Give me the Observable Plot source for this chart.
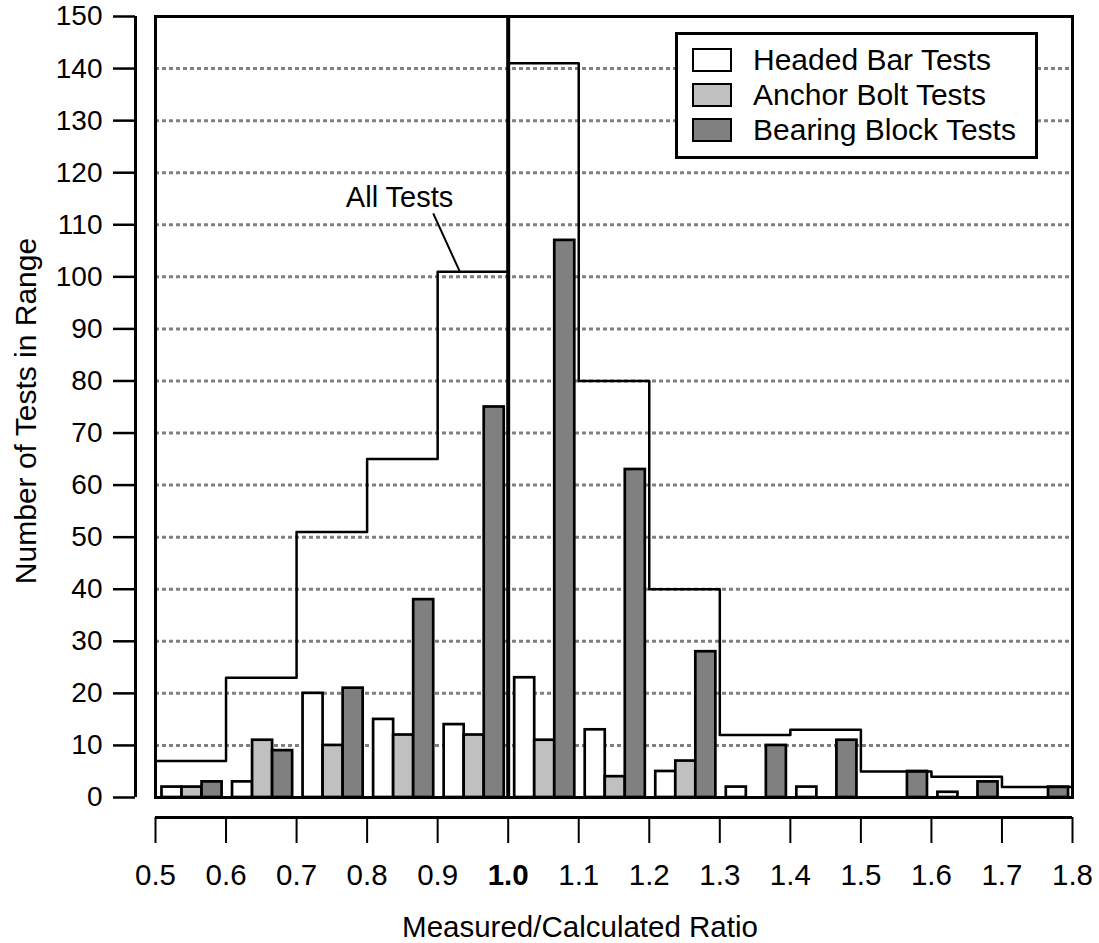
<!DOCTYPE html>
<html>
<head>
<meta charset="utf-8">
<script src="https://cdn.jsdelivr.net/npm/d3@7"></script>
<script src="https://cdn.jsdelivr.net/npm/@observablehq/plot@0.6"></script>
<style>
  html, body { margin: 0; padding: 0; background: #fff; }
  #wrap { position: relative; width: 1099px; height: 943px; font-family: "Liberation Sans", Arial, sans-serif; }
  #legend { position: absolute; left: 675px; top: 32px; width: 363px; height: 127px; box-sizing: border-box;
            border: 3px solid #000; background: #fff; padding-top: 7px; }
  .row { display: flex; align-items: center; height: 35px; }
  .sw { box-sizing: border-box; width: 40px; height: 24px; border: 2.5px solid #000; margin-left: 14px; margin-right: 21px; }
  .lt { font-size: 30px; color: #000; line-height: 35px; white-space: nowrap; }
</style>
</head>
<body>
<div id="wrap"></div>
<script>
// ---- data ----
const binStarts = [0.5, 0.6, 0.7, 0.8, 0.9, 1.0, 1.1, 1.2, 1.3, 1.4, 1.5, 1.6, 1.7];
const headedBar   = [2, 3, 20, 15, 14, 23, 13, 5, 2, 2, 0, 1, 0];
const anchorBolt  = [2, 11, 10, 12, 12, 11, 4, 7, 0, 0, 0, 0, 0];
const bearingBlock= [3, 9, 21, 38, 75, 107, 63, 28, 10, 11, 5, 3, 2];
const allTests    = [7, 23, 51, 65, 101, 141, 80, 40, 12, 13, 5, 4, 2];
const seriesNames = ["Headed Bar Tests", "Anchor Bolt Tests", "Bearing Block Tests"];
const seriesColors = ["#ffffff", "#c0c0c0", "#808080"];
const xTickLabels = ["0.5","0.6","0.7","0.8","0.9","1.0","1.1","1.2","1.3","1.4","1.5","1.6","1.7","1.8"];
const yTickValues = [0,10,20,30,40,50,60,70,80,90,100,110,120,130,140,150];
const gridValues  = [10,20,30,40,50,60,70,80,90,100,110,120,130,140];
const annotation = [{label: "All Tests", x: 0.846, y: 115.2, x1: 0.8937, y1: 112.2, x2: 0.9314, y2: 101}];

// ---- derived tables ----
const binWidth = 0.1;
const groupOffset = 0.092, barFrac = 0.284;
const seriesValues = [headedBar, anchorBolt, bearingBlock];
const bars = [];
seriesValues.forEach((vals, k) => {
  vals.forEach((v, i) => {
    if (v > 0) {
      const x1 = binStarts[i] + binWidth * (groupOffset + k * barFrac);
      bars.push({series: seriesNames[k], x1, x2: x1 + binWidth * barFrac, value: v});
    }
  });
});
const step = binStarts.map((b, i) => ({x: b, y: allTests[i]}));
step.push({x: 1.8, y: allTests[allTests.length - 1]});
const xTicks = xTickLabels.map(Number);
const boldTick = [1.0];
const normalTicks = xTicks.filter(t => t !== 1.0);

const chart = Plot.plot({
  width: 1099,
  height: 943,
  marginLeft: 155,
  marginRight: 27,
  marginTop: 16,
  marginBottom: 146,
  style: {fontFamily: "'Liberation Sans', Arial, sans-serif", background: "#fff", color: "#000"},
  x: {domain: [0.5, 1.8]},
  y: {domain: [0, 150]},
  color: {domain: seriesNames, range: seriesColors},
  marks: [
    Plot.ruleY(gridValues, {stroke: "#808080", strokeWidth: 3, strokeDasharray: "4,3"}),
    Plot.rect(bars, {x1: "x1", x2: "x2", y1: 0, y2: "value", fill: "series", stroke: "#000", strokeWidth: 2.7}),
    Plot.line(step, {x: "x", y: "y", curve: "step-after", stroke: "#000", strokeWidth: 2.5}),
    Plot.ruleX(boldTick, {stroke: "#000", strokeWidth: 4}),
    Plot.frame({stroke: "#000", strokeWidth: 3}),
    // annotation
    Plot.link(annotation, {x1: "x1", y1: "y1", x2: "x2", y2: "y2", stroke: "#000", strokeWidth: 2}),
    Plot.text(annotation, {x: "x", y: "y", text: "label", fontSize: 29, fill: "#000"}),
    // x axis (offset below the frame)
    Plot.ruleY([0], {dy: 20, stroke: "#000", strokeWidth: 3}),
    Plot.axisX({ticks: normalTicks, tickFormat: d => d.toFixed(1), tickSize: 26, tickPadding: 21, dy: 20,
                fontSize: 29.5, label: null, strokeWidth: 2}),
    Plot.axisX({ticks: boldTick, tickFormat: d => d.toFixed(1), tickSize: 26, tickPadding: 21, dy: 20,
                fontSize: 29.5, fontWeight: "bold", label: null, strokeWidth: 2}),
    Plot.text(["Measured/Calculated Ratio"], {frameAnchor: "bottom", dy: 139, dx: -34, fontSize: 29.5, fill: "#000"}),
    // y axis (offset left of the frame)
    Plot.ruleX([0.5], {dx: -20, stroke: "#000", strokeWidth: 3}),
    Plot.axisY({ticks: yTickValues, tickSize: 22, tickPadding: 11, dx: -20, fontSize: 28, label: null, strokeWidth: 2.5}),
    Plot.text(["Number of Tests in Range"], {frameAnchor: "left", textAnchor: "middle", dx: -129, dy: 4, rotate: -90, fontSize: 30, fill: "#000"})
  ]
});

const wrap = document.getElementById("wrap");
wrap.appendChild(chart);

// legend overlay
const legend = document.createElement("div");
legend.id = "legend";
seriesNames.forEach((name, k) => {
  const row = document.createElement("div");
  row.className = "row";
  const sw = document.createElement("div");
  sw.className = "sw";
  sw.style.background = seriesColors[k];
  const lt = document.createElement("span");
  lt.className = "lt";
  lt.textContent = name;
  row.appendChild(sw);
  row.appendChild(lt);
  legend.appendChild(row);
});
wrap.appendChild(legend);
</script>
</body>
</html>
